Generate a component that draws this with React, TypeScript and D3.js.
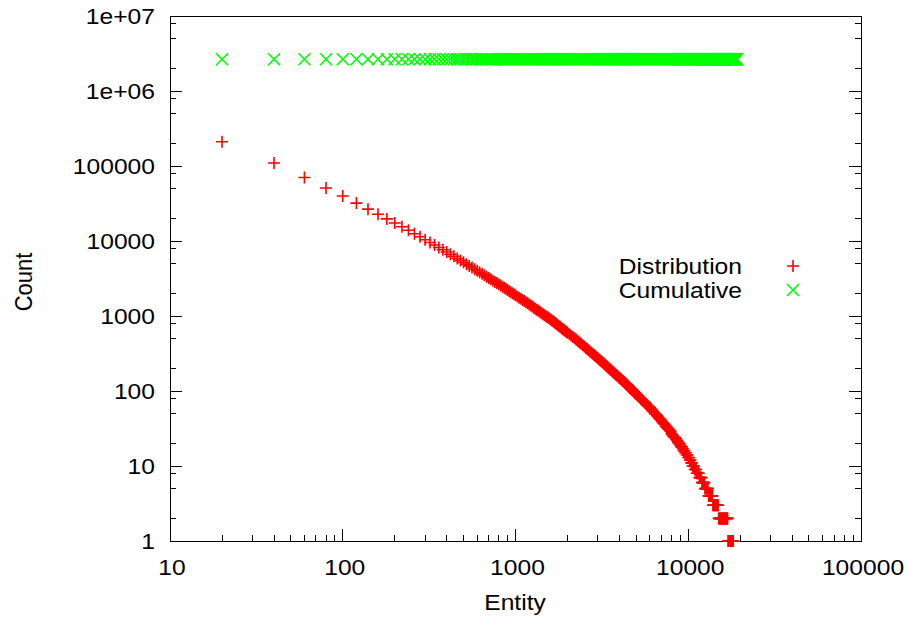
import React from 'react';
import * as d3 from 'd3';

// Canvas and plot frame
const WIDTH = 909;
const HEIGHT = 618;
const PLOT = { left: 170, right: 861, top: 16, bottom: 541 };

// Axis ticks
const X_TICKS = [10, 100, 1000, 10000, 100000];
const X_TICK_LABELS = ['10', '100', '1000', '10000', '100000'];
const Y_TICKS = [1, 10, 100, 1000, 10000, 100000, 1000000, 10000000];
const Y_TICK_LABELS = ['1', '10', '100', '1000', '10000', '100000', '1e+06', '1e+07'];
const X_MINOR_STEPS = [2, 3, 4, 5, 6, 7, 8, 9];
const Y_MINOR_STEPS = [2, 5, 8];

const X_LABEL = 'Entity';
const Y_LABEL = 'Count';
const SERIES_NAMES = ['Distribution', 'Cumulative'];

// [entity, count] pairs of the distribution series
const DISTRIBUTION: [number, number][] = [
  [20, 211000], [40, 109600], [60, 70300], [80, 50800], [100, 39800], [120, 32000], [140, 26600], [160, 22700],
  [180, 19700], [200, 17400], [220, 15500], [240, 13900], [260, 12520], [280, 11370], [300, 10390], [320, 9560],
  [340, 8830], [360, 8200], [380, 7640], [400, 7150], [420, 6670], [440, 6240], [460, 5855], [480, 5510],
  [500, 5195], [520, 4913], [540, 4655], [560, 4420], [580, 4204], [600, 4005], [620, 3819], [640, 3649],
  [660, 3491], [680, 3344], [700, 3207], [720, 3080], [740, 2960], [760, 2849], [780, 2744], [800, 2646],
  [820, 2554], [840, 2462], [860, 2376], [880, 2294], [900, 2217], [920, 2145], [940, 2076], [960, 2010],
  [980, 1948], [1000, 1889],
  [1025, 1819], [1050, 1754], [1075, 1692], [1100, 1634], [1125, 1579], [1150, 1527], [1175, 1475], [1200, 1426],
  [1225, 1379], [1250, 1335], [1275, 1293], [1300, 1253], [1325, 1216], [1350, 1180], [1375, 1145], [1400, 1113],
  [1425, 1081], [1450, 1051], [1475, 1023], [1500, 995], [1525, 969], [1550, 945], [1575, 920], [1600, 896],
  [1625, 872], [1650, 848], [1675, 825], [1700, 804], [1725, 783], [1750, 762], [1775, 743], [1800, 724],
  [1825, 707], [1850, 689], [1875, 673], [1900, 657], [1925, 642], [1950, 627], [1975, 613], [2000, 599],
  [2050, 573], [2100, 548], [2150, 525], [2200, 504], [2250, 483], [2300, 462], [2350, 443], [2400, 425],
  [2450, 408], [2500, 392], [2550, 377], [2600, 363], [2650, 349], [2700, 337], [2750, 324], [2800, 313],
  [2850, 302], [2900, 292], [2950, 282], [3000, 273], [3050, 264], [3100, 256], [3150, 247], [3200, 239],
  [3250, 232], [3300, 224], [3350, 217], [3400, 211], [3450, 204], [3500, 198], [3550, 192], [3600, 187],
  [3650, 181], [3700, 176], [3750, 171], [3800, 166], [3850, 162], [3900, 158], [3950, 153], [4000, 149],
  [4050, 146], [4100, 142], [4150, 138], [4200, 135], [4250, 132], [4300, 128], [4350, 125], [4400, 122],
  [4450, 119], [4500, 116], [4550, 113], [4600, 110], [4650, 107], [4700, 105], [4750, 102], [4800, 100],
  [4850, 97], [4900, 95], [4950, 93], [5000, 91],
  [5100, 87], [5200, 83], [5300, 79], [5400, 76], [5500, 73], [5600, 70], [5700, 67], [5800, 64],
  [5900, 62], [6000, 60], [6100, 57], [6200, 55], [6300, 53], [6400, 50], [6500, 49], [6600, 47],
  [6700, 45], [6800, 43], [6900, 42], [7000, 40], [7100, 38], [7200, 37], [7300, 36], [7400, 34],
  [7500, 33], [7600, 32], [7700, 31], [7800, 30], [7900, 29], [8000, 27], [8100, 26], [8200, 25],
  [8300, 24], [8400, 24], [8500, 23], [8600, 22], [8700, 21], [8800, 20], [8900, 20], [9000, 19],
  [9100, 18], [9200, 18], [9300, 17], [9400, 16], [9500, 16], [9600, 15], [9700, 15], [9800, 14],
  [9900, 14], [10000, 13], [10100, 13], [10200, 12], [10300, 12], [10400, 11], [10500, 11], [10600, 10],
  [10700, 10], [10800, 10], [10900, 9], [11000, 9], [11100, 9], [11200, 8], [11300, 8], [11400, 8],
  [11500, 8], [11600, 7], [11700, 7], [11800, 7], [11900, 7], [12000, 6], [12100, 6], [12200, 6],
  [12300, 6], [12400, 6], [12500, 5], [12600, 5], [12700, 5], [12800, 5], [12900, 5], [13000, 5],
  [13100, 4], [13200, 4], [13300, 4], [13400, 4], [13500, 4], [13600, 4], [13700, 4], [13800, 4],
  [13900, 3], [14000, 3], [14100, 3], [14200, 3], [14300, 3], [14400, 3], [14500, 3], [14600, 3],
  [14700, 3], [14800, 3], [14900, 3], [15000, 2], [15100, 2], [15200, 2], [15300, 2], [15400, 2],
  [15500, 2], [15600, 2], [15700, 2], [15800, 2], [15900, 2], [16000, 2], [16100, 2], [16200, 2],
  [16300, 2], [16400, 2], [16500, 2], [16600, 2], [16700, 2], [16800, 2], [16900, 2], [17000, 1],
  [17100, 1], [17200, 1], [17300, 1], [17400, 1], [17500, 1], [17600, 1], [17700, 1], [17800, 1],
  [17900, 1], [18000, 1], [18100, 1], [18200, 1],
];

// Cumulative series: same entities, continuing past the last distribution point
const CUMULATIVE_EXTRA_ENTITIES = [18300, 18400, 18500, 18600, 18700, 18800, 18900, 19000, 19100, 19200];
const CUMULATIVE_TOTAL = 2650000;

const RED = '#ff0000';
const GREEN = '#00ff00';
const FONT = "'Liberation Sans', Arial, Helvetica, sans-serif";
const FONT_SIZE = 22;
const STRETCH = 1.12;
const MARK = 6;
const MARK_STROKE = 1.6;

const plusPath = `M${-MARK},0H${MARK}M0,${-MARK}V${MARK}`;
const crossPath = `M${-MARK},${-MARK}L${MARK},${MARK}M${-MARK},${MARK}L${MARK},${-MARK}`;

function Label({ x, y, anchor = 'start', rotate = false, children }: any) {
  const t = `translate(${x},${y}) scale(${STRETCH},1)${rotate ? ' rotate(-90)' : ''}`;
  return (
    <text transform={t} textAnchor={anchor} fontFamily={FONT} fontSize={FONT_SIZE} fill="#000">
      {children}
    </text>
  );
}

export default function App() {
  const x = d3.scaleLog().domain([10, 100000]).range([PLOT.left, PLOT.right]);
  const y = d3.scaleLog().domain([1, 10000000]).range([PLOT.bottom, PLOT.top]);

  const xMinor: number[] = [];
  X_TICKS.slice(0, -1).forEach((t) => X_MINOR_STEPS.forEach((m) => xMinor.push(t * m)));
  const yMinor: number[] = [];
  Y_TICKS.slice(0, -1).forEach((t) => Y_MINOR_STEPS.forEach((m) => yMinor.push(t * m)));

  const cumulativeEntities = [...DISTRIBUTION.map((d) => d[0]), ...CUMULATIVE_EXTRA_ENTITIES];

  const MAJ = 12;
  const MIN = 6;

  return (
    <svg
      width={WIDTH}
      height={HEIGHT}
      style={{ position: 'absolute', left: 0, top: 0, background: '#fff' }}
    >
      <rect x={0} y={0} width={WIDTH} height={HEIGHT} fill="#fff" />
      <g stroke="#000" strokeWidth={1} shapeRendering="crispEdges" fill="none">
        {/* x ticks along the bottom */}
        {X_TICKS.map((t) => (
          <line key={'xt' + t} x1={x(t)} x2={x(t)} y1={PLOT.bottom} y2={PLOT.bottom - MAJ} />
        ))}
        {xMinor.map((t) => (
          <line key={'xm' + t} x1={x(t)} x2={x(t)} y1={PLOT.bottom} y2={PLOT.bottom - MIN} />
        ))}
        {/* y ticks, left and mirrored right */}
        {Y_TICKS.map((t) => (
          <g key={'yt' + t}>
            <line x1={PLOT.left} x2={PLOT.left + MAJ} y1={y(t)} y2={y(t)} />
            <line x1={PLOT.right} x2={PLOT.right - MAJ} y1={y(t)} y2={y(t)} />
          </g>
        ))}
        {yMinor.map((t) => (
          <g key={'ym' + t}>
            <line x1={PLOT.left} x2={PLOT.left + MIN} y1={y(t)} y2={y(t)} />
            <line x1={PLOT.right} x2={PLOT.right - MIN} y1={y(t)} y2={y(t)} />
          </g>
        ))}
        <rect
          x={PLOT.left}
          y={PLOT.top}
          width={PLOT.right - PLOT.left}
          height={PLOT.bottom - PLOT.top}
        />
      </g>

      {/* tick labels */}
      {X_TICKS.map((t, i) => (
        <Label key={'xl' + t} x={x(t) + 2} y={PLOT.bottom + 34} anchor="middle">
          {X_TICK_LABELS[i]}
        </Label>
      ))}
      {Y_TICKS.map((t, i) => (
        <Label key={'yl' + t} x={155} y={y(t) + 8} anchor="end">
          {Y_TICK_LABELS[i]}
        </Label>
      ))}

      {/* axis titles */}
      <Label x={515} y={610} anchor="middle">{X_LABEL}</Label>
      <Label x={32} y={282} anchor="middle" rotate>{Y_LABEL}</Label>

      {/* distribution */}
      <g stroke={RED} strokeWidth={MARK_STROKE} fill="none">
        {DISTRIBUTION.map(([e, c]) => (
          <path key={'d' + e} transform={`translate(${x(e)},${y(c)})`} d={plusPath} />
        ))}
      </g>

      {/* cumulative */}
      <g stroke={GREEN} strokeWidth={MARK_STROKE} fill="none">
        {cumulativeEntities.map((e) => (
          <path key={'c' + e} transform={`translate(${x(e)},${y(CUMULATIVE_TOTAL)})`} d={crossPath} />
        ))}
      </g>

      {/* key */}
      <Label x={742} y={274} anchor="end">{SERIES_NAMES[0]}</Label>
      <Label x={742} y={298} anchor="end">{SERIES_NAMES[1]}</Label>
      <path transform="translate(793,266)" d={plusPath} stroke={RED} strokeWidth={MARK_STROKE} fill="none" />
      <path transform="translate(793,290)" d={crossPath} stroke={GREEN} strokeWidth={MARK_STROKE} fill="none" />
    </svg>
  );
}
